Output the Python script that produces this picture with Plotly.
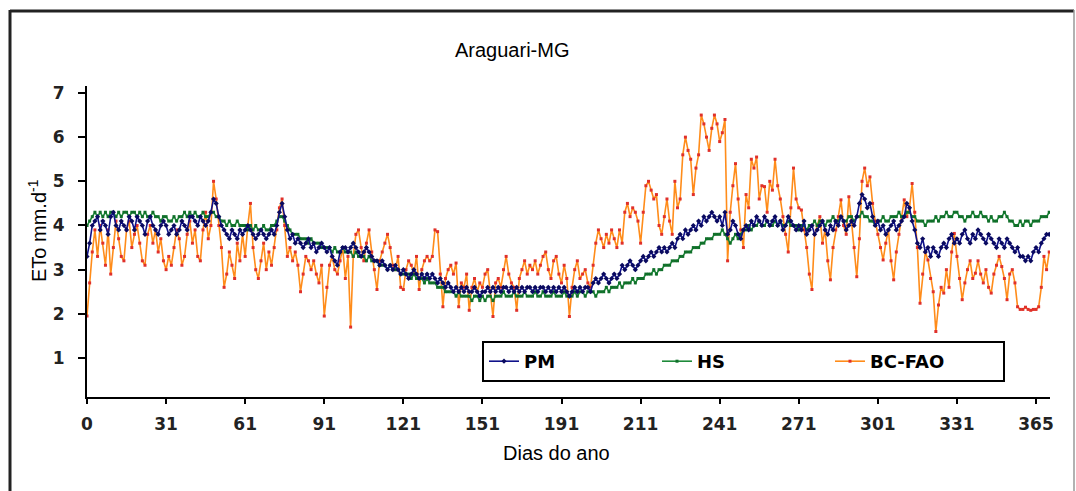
import plotly.graph_objects as go

days = list(range(0, 366))

pm = [
3.3,3.6,4.0,4.1,4.2,3.9,4.1,4.0,3.8,4.2,
4.3,4.0,3.9,4.1,4.0,3.9,4.2,4.1,3.9,4.2,
4.1,4.0,3.8,4.1,4.2,4.0,3.9,3.8,4.0,4.1,
4.0,3.8,3.9,4.0,3.8,3.9,4.1,4.0,3.9,4.2,
4.2,4.1,4.0,4.2,4.1,4.0,4.1,4.3,4.6,4.5,
4.2,4.0,3.9,3.8,3.7,3.9,3.8,3.7,3.9,3.8,
3.9,4.0,3.9,3.8,3.7,3.8,3.9,3.8,3.7,3.8,
3.9,3.8,4.0,4.3,4.5,4.2,3.9,3.7,3.8,3.6,
3.7,3.6,3.5,3.6,3.7,3.5,3.6,3.4,3.5,3.6,
3.5,3.4,3.5,3.3,3.2,3.1,3.4,3.5,3.5,3.4,
3.5,3.6,3.5,3.4,3.3,3.4,3.5,3.4,3.3,3.2,
3.2,3.1,3.2,3.1,3.0,3.1,3.0,3.1,3.0,2.9,
3.0,2.9,2.8,2.9,3.0,2.9,2.8,2.9,2.8,2.9,
2.8,2.9,2.8,2.7,2.8,2.7,2.6,2.7,2.6,2.5,
2.6,2.5,2.6,2.5,2.6,2.5,2.5,2.6,2.5,2.4,
2.5,2.5,2.6,2.5,2.6,2.5,2.6,2.5,2.6,2.6,
2.5,2.6,2.5,2.6,2.5,2.6,2.5,2.6,2.6,2.5,
2.6,2.5,2.6,2.6,2.5,2.6,2.5,2.6,2.5,2.6,
2.5,2.6,2.5,2.4,2.5,2.6,2.5,2.6,2.5,2.6,
2.6,2.5,2.7,2.8,2.7,2.8,2.9,2.8,2.7,2.8,
2.9,2.8,2.9,3.1,3.0,3.1,3.2,3.1,3.0,3.1,
3.2,3.3,3.2,3.3,3.4,3.3,3.4,3.5,3.4,3.5,
3.4,3.5,3.6,3.5,3.7,3.8,3.7,3.9,3.8,3.9,
4.0,3.9,4.1,4.0,4.2,4.1,4.2,4.3,4.2,4.1,
4.2,4.0,4.3,3.8,3.9,4.1,4.0,3.8,3.7,3.9,
4.0,3.9,4.1,4.0,4.2,4.1,4.0,4.2,4.1,4.0,
4.1,4.2,4.0,4.1,3.9,4.0,4.2,4.1,4.0,3.9,
4.0,3.9,4.1,3.8,3.9,4.0,3.8,3.9,4.0,4.1,
3.9,3.8,4.0,3.9,4.1,4.0,4.2,4.1,3.9,4.0,
4.1,4.0,4.2,4.5,4.7,4.6,4.4,4.5,4.2,4.0,
4.1,3.9,4.0,3.8,3.9,4.0,4.1,3.9,4.0,4.1,
4.2,4.5,4.4,4.1,3.9,3.6,3.5,3.7,3.4,3.5,
3.3,3.5,3.4,3.3,3.5,3.6,3.5,3.7,3.8,3.6,
3.7,3.6,3.8,3.9,3.7,3.6,3.8,3.7,3.9,3.8,
3.7,3.6,3.8,3.7,3.6,3.5,3.7,3.6,3.5,3.7,
3.6,3.5,3.4,3.5,3.3,3.3,3.2,3.3,3.2,3.4,
3.5,3.4,3.6,3.7,3.8,3.8,
]

hs = [
4.0,4.1,4.2,4.3,4.2,4.3,4.2,4.3,4.2,4.3,
4.3,4.2,4.3,4.2,4.3,4.3,4.2,4.3,4.3,4.2,
4.3,4.2,4.3,4.2,4.2,4.3,4.2,4.2,4.1,4.2,
4.2,4.1,4.1,4.2,4.1,4.2,4.2,4.3,4.2,4.3,
4.2,4.3,4.2,4.2,4.3,4.2,4.2,4.3,4.3,4.2,
4.2,4.1,4.1,4.0,4.1,4.0,4.0,4.1,4.0,4.0,
4.0,3.9,4.0,3.9,4.0,3.9,3.9,4.0,3.9,3.9,
4.0,4.0,4.1,4.2,4.2,4.1,4.0,3.9,3.8,3.8,
3.8,3.7,3.7,3.7,3.6,3.7,3.6,3.6,3.6,3.5,
3.5,3.5,3.5,3.4,3.5,3.4,3.4,3.5,3.4,3.4,
3.4,3.3,3.4,3.3,3.3,3.3,3.2,3.3,3.2,3.2,
3.2,3.1,3.1,3.1,3.0,3.1,3.0,3.0,3.0,2.9,
2.9,2.9,2.9,2.8,2.9,2.8,2.8,2.8,2.7,2.8,
2.7,2.7,2.7,2.6,2.6,2.6,2.5,2.5,2.5,2.5,
2.4,2.5,2.4,2.4,2.4,2.4,2.3,2.4,2.4,2.3,
2.4,2.3,2.4,2.4,2.3,2.4,2.4,2.4,2.5,2.4,
2.4,2.4,2.5,2.4,2.4,2.4,2.5,2.4,2.4,2.4,
2.5,2.4,2.4,2.5,2.4,2.4,2.4,2.5,2.4,2.4,
2.4,2.5,2.4,2.4,2.4,2.5,2.4,2.5,2.5,2.4,
2.5,2.5,2.5,2.4,2.5,2.5,2.5,2.6,2.5,2.6,
2.6,2.6,2.7,2.6,2.7,2.7,2.7,2.8,2.7,2.8,
2.8,2.8,2.9,2.9,2.9,3.0,2.9,3.0,3.0,3.1,
3.1,3.1,3.2,3.2,3.2,3.3,3.3,3.4,3.4,3.4,
3.5,3.5,3.5,3.6,3.6,3.7,3.7,3.7,3.8,3.8,
3.8,3.9,3.8,3.7,3.6,3.7,3.8,3.7,3.8,3.9,
3.9,4.0,3.9,4.0,4.0,4.1,4.0,4.0,4.1,4.0,
4.0,4.1,4.0,4.1,4.0,4.0,4.1,4.0,4.0,4.0,
3.9,4.0,4.0,3.9,4.0,4.0,4.1,4.0,4.1,4.1,
4.0,4.1,4.1,4.2,4.1,4.1,4.2,4.1,4.1,4.2,
4.2,4.1,4.2,4.2,4.3,4.2,4.2,4.1,4.1,4.0,
4.1,4.1,4.2,4.1,4.1,4.2,4.2,4.2,4.3,4.2,
4.2,4.3,4.3,4.2,4.2,4.1,4.1,4.1,4.0,4.1,
4.1,4.1,4.2,4.1,4.2,4.2,4.3,4.2,4.2,4.3,
4.3,4.2,4.2,4.1,4.2,4.2,4.3,4.2,4.2,4.3,
4.2,4.2,4.1,4.2,4.1,4.1,4.2,4.2,4.3,4.2,
4.1,4.1,4.0,4.0,4.1,4.0,4.1,4.1,4.0,4.1,
4.1,4.1,4.2,4.2,4.2,4.3,
]

bc_fao = [
1.95,2.7,3.4,3.9,3.3,4.0,3.6,3.1,3.9,2.9,
3.5,4.1,3.7,3.3,3.2,3.9,4.1,3.5,3.8,4.0,
3.6,3.2,3.1,3.8,4.0,3.6,3.9,3.4,3.7,3.2,
3.0,3.3,3.1,3.5,3.9,3.7,3.1,3.3,3.8,4.1,
3.6,3.9,3.3,3.2,3.9,4.3,3.7,4.0,5.0,4.6,
4.0,3.5,2.6,2.9,3.4,3.1,2.8,3.6,3.2,3.8,
3.3,4.0,4.5,3.5,3.0,2.8,3.2,3.6,3.0,3.4,
3.1,3.5,3.9,4.4,4.6,4.0,3.3,3.5,3.2,3.4,
3.1,2.5,2.9,3.3,3.2,3.0,3.2,2.9,2.7,3.1,
1.95,2.6,3.1,3.3,3.0,2.9,3.2,3.5,2.8,3.3,
1.7,3.3,3.8,3.9,3.5,3.2,3.6,3.9,3.4,3.0,
2.55,3.2,3.4,3.6,3.8,3.5,3.1,3.0,3.3,2.6,
2.55,3.0,3.2,3.1,2.9,3.3,2.55,3.0,3.2,3.3,
3.2,3.3,3.9,3.86,2.9,2.16,2.8,3.0,3.1,2.9,
3.15,2.16,2.7,2.6,2.9,2.08,2.6,2.8,2.5,2.7,
2.6,2.9,3.0,2.5,1.94,2.7,2.8,2.6,3.0,3.3,
2.9,2.7,2.6,2.08,2.8,3.0,3.2,2.9,3.1,3.0,
3.2,2.9,3.1,3.3,3.4,3.0,2.8,3.2,3.3,2.9,
2.7,3.1,2.8,1.94,2.6,3.0,3.2,2.8,2.9,3.0,
2.7,2.6,3.1,3.6,3.9,3.7,3.5,3.8,3.6,3.9,
3.7,3.5,3.9,3.6,4.3,4.5,4.2,4.4,4.3,4.1,
3.6,4.3,4.9,5.0,4.8,4.6,4.7,4.0,3.8,4.2,
4.6,4.1,3.8,5.0,4.4,4.6,5.6,6.0,5.7,5.5,
4.7,5.3,5.6,6.5,6.3,6.0,5.7,6.2,6.5,6.3,
5.9,6.1,6.4,3.2,4.3,4.9,5.4,4.6,3.9,3.5,
4.7,4.4,5.5,5.3,5.55,4.6,4.9,4.88,4.3,5.0,
4.8,5.5,4.9,4.6,4.2,3.8,3.4,4.4,5.3,4.6,
4.4,4.35,3.9,3.5,2.9,2.55,3.8,4.0,4.2,3.6,
3.9,3.2,2.77,3.5,3.9,4.2,4.58,4.0,3.8,4.65,
4.1,3.5,2.84,3.7,5.0,5.3,4.9,5.1,4.5,4.1,
3.8,3.5,3.22,3.6,3.9,3.2,2.77,3.4,3.8,4.2,
4.58,4.2,4.4,4.95,4.3,3.5,2.24,2.9,3.4,3.22,
2.8,2.5,1.6,2.2,2.6,2.47,3.0,2.6,3.4,3.82,
3.3,2.8,2.32,2.7,3.0,3.2,2.8,2.92,3.2,2.9,
2.7,3.0,2.6,2.47,2.9,3.1,3.3,3.07,2.8,2.32,
2.9,3.0,2.7,2.16,2.1,2.1,2.15,2.1,2.08,2.1,
2.1,2.16,2.6,3.3,3.0,3.4,
]

tick_vals = [0, 30, 60, 90, 120, 150, 180, 210, 240, 270, 300, 330, 360]
tick_text = ["0", "31", "61", "91", "121", "151", "191", "211", "241", "271", "301", "331", "365"]
y_ticks = [1, 2, 3, 4, 5, 6, 7]

FONT = "Liberation Sans, Arial, sans-serif"
BOLD = "DejaVu Sans, sans-serif"

fig = go.Figure()
fig.add_trace(go.Scatter(
    x=days, y=bc_fao, name="BC-FAO", mode="lines+markers", legendrank=3,
    line=dict(color="#FF8C1A", width=1.6),
    marker=dict(color="#E0302A", size=3, symbol="square"),
))
fig.add_trace(go.Scatter(
    x=days, y=hs, name="HS", mode="lines+markers", legendrank=2,
    line=dict(color="#1E8A3A", width=1.6),
    marker=dict(color="#10702A", size=3, symbol="square"),
))
fig.add_trace(go.Scatter(
    x=days, y=pm, name="PM", mode="lines+markers", legendrank=1,
    line=dict(color="#10128A", width=1.6),
    marker=dict(color="#0A0A60", size=4, symbol="diamond"),
))

L, R, T, B = 87, 26, 86, 94
W, H = 1076, 491
pw = W - L - R
ph = H - T - B

def px_x(x):
    return (x - L) / pw

def px_y(y):
    return (H - B - y) / ph

shapes = [
    dict(type="line", xref="paper", yref="paper", x0=px_x(10), x1=px_x(10), y0=px_y(10), y1=px_y(520),
         line=dict(color="#222222", width=3)),
    dict(type="line", xref="paper", yref="paper", x0=px_x(10), x1=px_x(1074), y0=px_y(11), y1=px_y(11),
         line=dict(color="#222222", width=3)),
    dict(type="line", xref="paper", yref="paper", x0=px_x(1074), x1=px_x(1074), y0=px_y(10), y1=px_y(520),
         line=dict(color="#999999", width=1.5)),
]

annotations = [
    dict(text="Araguari-MG", xref="paper", yref="paper", x=px_x(512), y=px_y(50),
         xanchor="center", yanchor="middle", showarrow=False,
         font=dict(size=20, family=FONT, color="black")),
    dict(text="Dias do ano", xref="paper", yref="paper", x=px_x(556), y=px_y(453),
         xanchor="center", yanchor="middle", showarrow=False,
         font=dict(size=20, family=FONT, color="black")),
    dict(text="ETo mm.d<sup>-1</sup>", xref="paper", yref="paper", x=px_x(37), y=px_y(231),
         xanchor="center", yanchor="middle", showarrow=False, textangle=-90,
         font=dict(size=20, family=FONT, color="black")),
]

fig.update_layout(
    width=W, height=H,
    margin=dict(l=L, r=R, t=T, b=B, autoexpand=False),
    paper_bgcolor="white", plot_bgcolor="white",
    font=dict(family=FONT, color="black"),
    showlegend=True,
    legend=dict(orientation="h", x=px_x(482), y=px_y(341), xanchor="left", yanchor="top",
                bgcolor="white", bordercolor="black", borderwidth=2,
                entrywidth=128, entrywidthmode="pixels",
                font=dict(size=18, family=BOLD, weight="bold", color="black"),
                traceorder="normal", itemwidth=30),
    shapes=shapes,
    annotations=annotations,
)

fig.update_xaxes(
    range=[0, 365.3], tickmode="array", tickvals=tick_vals, ticktext=tick_text,
    showgrid=False, zeroline=False, showline=True, linecolor="black", linewidth=2,
    ticks="outside", ticklen=5, tickwidth=2, tickcolor="black", automargin=False,
    tickfont=dict(size=17, family=BOLD, weight="bold", color="#222222"),
    ticklabelstandoff=6,
)
fig.update_yaxes(
    range=[0.117, 7.158], tickmode="array", tickvals=y_ticks,
    showgrid=False, zeroline=False, showline=True, linecolor="black", linewidth=2,
    ticks="outside", ticklen=7, tickwidth=2, tickcolor="black", automargin=False,
    tickfont=dict(size=17, family=BOLD, weight="bold", color="#222222"),
    ticklabelstandoff=10,
)

fig.write_html(
    "out.html",
    config={"displayModeBar": False},
    post_script="document.body.style.margin='0';document.body.style.padding='0';document.body.style.overflow='hidden';",
)
